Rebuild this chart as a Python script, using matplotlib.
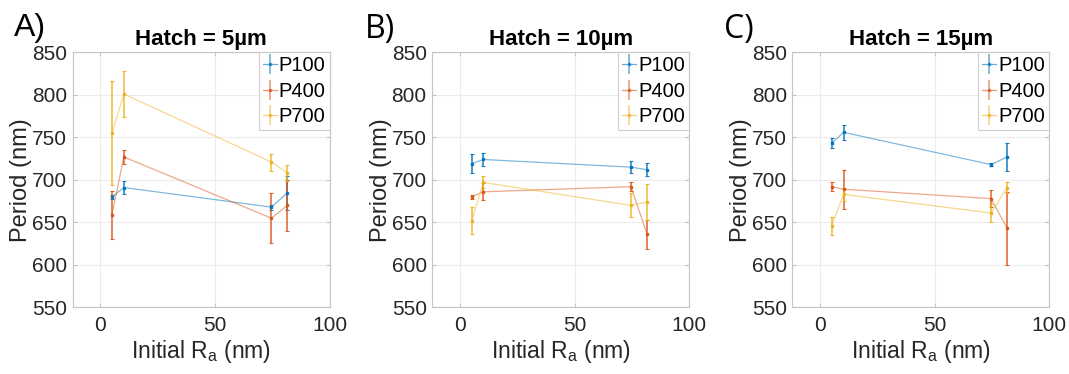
import matplotlib
matplotlib.use("Agg")
import matplotlib.pyplot as plt

plt.rcParams['font.family'] = ['Liberation Sans', 'DejaVu Sans']

ra = [5.1, 10.3, 74.6, 81.6]
series_names = ["P100", "P400", "P700"]
colors = ["#0072BD", "#D95319", "#EDB120"]
titles = ["Hatch = 5µm", "Hatch = 10µm", "Hatch = 15µm"]
panel_labels = ["A)", "B)", "C)"]
xticks = [0, 50, 100]
yticks = [550, 600, 650, 700, 750, 800, 850]

# Hatch = 5 µm
h5_p100 = [680, 691, 668, 685]
h5_p100_err = [2, 7.5, 3, 20]
h5_p400 = [659, 727, 655, 670]
h5_p400_err = [28, 8.5, 29, 30]
h5_p700 = [755, 801, 721, 708]
h5_p700_err = [61, 27, 10, 9]

# Hatch = 10 µm
h10_p100 = [719, 724, 715, 712]
h10_p100_err = [11, 7.5, 7, 7.5]
h10_p400 = [680, 686, 692, 636]
h10_p400_err = [2, 10, 5, 17]
h10_p700 = [652, 697, 670, 674]
h10_p700_err = [16, 7, 14, 21]

# Hatch = 15 µm
h15_p100 = [743, 756, 718, 727]
h15_p100_err = [6, 9, 2, 16]
h15_p400 = [692, 689, 678, 643]
h15_p400_err = [5, 23, 10, 43]
h15_p700 = [646, 683, 661, 691]
h15_p700_err = [10.5, 8, 11, 6]

panels = [
    [(h5_p100, h5_p100_err), (h5_p400, h5_p400_err), (h5_p700, h5_p700_err)],
    [(h10_p100, h10_p100_err), (h10_p400, h10_p400_err), (h10_p700, h10_p700_err)],
    [(h15_p100, h15_p100_err), (h15_p400, h15_p400_err), (h15_p700, h15_p700_err)],
]

fig = plt.figure(figsize=(10.69, 3.74), dpi=100)
lefts = [0.068, 0.4044, 0.7412]
label_x = [0.013, 0.341, 0.677]
label_fonts = ['Liberation Sans', 'Open Sans', 'Open Sans']
spine_col = "#c4c4c4"
text_col = "#262626"

for i in range(3):
    ax = fig.add_axes([lefts[i], 0.178, 0.2404, 0.682])
    handles = []
    for (vals, errs), name, c in zip(panels[i], series_names, colors):
        ax.plot(ra, vals, color=c, lw=0.9, alpha=0.5, zorder=2)
        ax.errorbar(ra, vals, yerr=errs, color=c, fmt='s', ms=2.0,
                    elinewidth=1.1, capsize=1.5, capthick=0.8, alpha=0.9, zorder=3)
        handles.append(ax.errorbar([], [], yerr=[], color=c, lw=0.9, marker='s', ms=2.0,
                                   elinewidth=1.1, capsize=1.5, capthick=0.8, alpha=0.6,
                                   label=name))
    ax.set_xlim(-12, 100)
    ax.set_ylim(550, 850)
    ax.set_xticks(xticks)
    ax.set_yticks(yticks)
    ax.grid(True, color="#ececec", lw=0.8)
    ax.set_axisbelow(True)
    for s in ax.spines.values():
        s.set_color(spine_col)
        s.set_linewidth(0.8)
    ax.tick_params(direction='in', length=3, color=spine_col, labelsize=15,
                   labelcolor=text_col, top=True, right=True, pad=4)
    ax.tick_params(axis='x', pad=6)
    ax.set_xlabel("Initial R$_\\mathregular{a}$ (nm)", fontsize=16.5, color=text_col, labelpad=2)
    ax.set_ylabel("Period (nm)", fontsize=17, color=text_col, labelpad=0)
    ax.set_title(titles[i], fontsize=16, fontweight='bold', color='black', pad=5)
    leg = ax.legend(handles=handles, loc='upper right', fontsize=14.5, frameon=True, fancybox=False,
                    borderaxespad=0.0, handlelength=0.7, handletextpad=0.1,
                    borderpad=0.2, labelspacing=0.32)
    leg.get_frame().set_edgecolor(spine_col)
    leg.get_frame().set_linewidth(0.8)
    fig.text(label_x[i], 0.965, panel_labels[i], fontsize=23, family=label_fonts[i],
             va='top', ha='left', color='black')

fig.savefig("out.png", dpi=100)
